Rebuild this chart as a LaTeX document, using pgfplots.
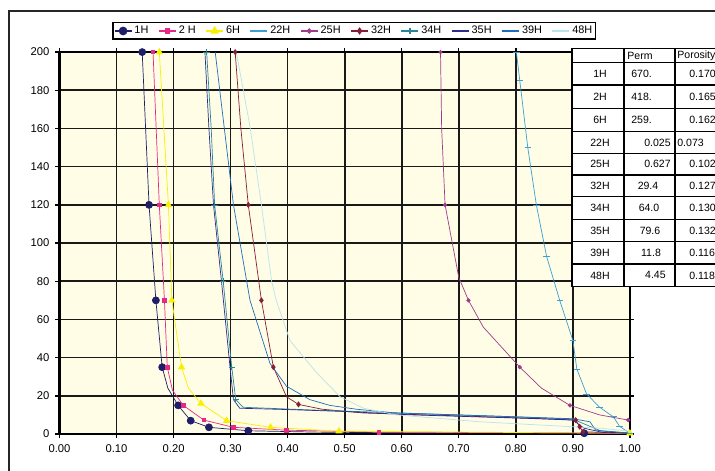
\documentclass[border=0pt]{standalone}
\usepackage{fontspec}
\setmainfont{Liberation Sans}
\usepackage{pgfplots}
\pgfplotsset{compat=1.18}

\definecolor{cream}{RGB}{255,253,230}
\definecolor{cA}{RGB}{30,30,105}   % 1H
\definecolor{cB}{RGB}{232,40,135}  % 2H
\definecolor{cC}{RGB}{248,240,0}   % 6H
\definecolor{cD}{RGB}{60,160,210}  % 22H
\definecolor{cE}{RGB}{160,60,140}  % 25H
\definecolor{cF}{RGB}{135,30,55}   % 32H
\definecolor{cG}{RGB}{40,135,150}  % 34H
\definecolor{cH}{RGB}{45,45,140}   % 35H
\definecolor{cI}{RGB}{30,110,190}  % 39H
\definecolor{cJ}{RGB}{185,228,238} % 48H

\begin{document}
\begin{tikzpicture}[x=0.02cm,y=0.02cm]
\useasboundingbox (0,0) rectangle (715,470);
\clip (0,0) rectangle (715,470);
% outer chart frame
\draw[black!85, line width=0.9pt] (9,-10) -- (9,459) -- (730,459);

\begin{axis}[
    at={(1.19cm,0.72cm)}, anchor=south west,
    scale only axis, width=11.41cm, height=7.64cm,
    xmin=0, xmax=1, ymin=0, ymax=200,
    xtick={0,0.1,0.2,0.3,0.4,0.5,0.6,0.7,0.8,0.9,1},
    ytick={0,20,40,60,80,100,120,140,160,180,200},
    xticklabel style={/pgf/number format/.cd, fixed, fixed zerofill, precision=2},
    /pgf/number format/assume math mode=true,
    tick label style={font=\fontsize{6.4}{7}\selectfont},
    grid=major,
    major grid style={black!90, line width=0.95pt},
    axis line style={black, line width=1.4pt},
    axis background/.style={fill=cream},
    tick align=outside, major tick length=0.08cm,
    tick style={black, line width=0.8pt},
    every plot/.append style={line width=0.85pt, mark size=1.2pt},
    legend columns=10,
    legend style={at={(0.092,1.079)}, anchor=north west, draw=black,
        line width=0.9pt, fill=white, inner sep=0.6pt,
        font=\fontsize{6.2}{6.5}\selectfont,
        nodes={inner sep=1.2pt},
        /tikz/every even column/.append style={column sep=4.3pt}},
    legend image code/.code={\draw[mark indices={2}]
        plot coordinates {(0cm,0cm) (0.17cm,0cm) (0.34cm,0cm)};},
]
\addplot[color=cA, mark=*, mark options={fill=cA},
    mark indices={1,2,3,4,6,7,8,9,12}] coordinates {
  (0.145,200) (0.157,120) (0.169,70) (0.180,35) (0.190,24) (0.208,15)
  (0.230,7) (0.262,3.5) (0.331,1.7) (0.45,1.0) (0.60,0.6) (0.92,0.4) (1.0,0.2)};
\addlegendentry{1H}
\addplot[color=cB, mark=square*, mark size=1pt, mark options={fill=cB},
    mark indices={1,2,3,4,6,7,8,9,10}] coordinates {
  (0.164,200) (0.175,120) (0.184,70) (0.189,35) (0.198,23) (0.217,15)
  (0.253,7.3) (0.305,3.5) (0.398,2.0) (0.56,1.0) (0.90,0.6) (1.0,0.3)};
\addlegendentry{2 H}
\addplot[color=cC, mark=triangle*, mark options={fill=cC},
    mark indices={1,2,3,4,6,7,8,9,11}] coordinates {
  (0.175,200) (0.191,120) (0.197,70) (0.214,35) (0.226,24) (0.248,16)
  (0.293,7) (0.37,3.5) (0.49,1.5) (0.75,0.9) (1.0,0.4)};
\addlegendentry{6H}
\addplot[color=cD, mark=-, mark size=1.8pt] coordinates {
  (0.801,200) (0.807,185) (0.821,150) (0.836,120) (0.854,93) (0.877,70)
  (0.900,49) (0.907,34) (0.924,21) (0.947,14) (0.971,9) (0.982,4) (1.0,0.4)};
\addlegendentry{22H}
\addplot[color=cE, mark=*, mark size=1pt, mark options={fill=cE},
    mark indices={1,3,5,7,9,11}] coordinates {
  (0.668,200) (0.670,160) (0.676,120) (0.700,82) (0.717,70) (0.743,56)
  (0.807,35) (0.845,24) (0.895,15) (0.947,10) (0.997,7.3)};
\addlegendentry{25H}
\addplot[color=cF, mark=diamond*, mark size=1.4pt, mark options={fill=cF},
    mark indices={1,3,4,5,7,12,13,14}] coordinates {
  (0.308,200) (0.318,160) (0.331,120) (0.354,70) (0.375,35) (0.398,19.5)
  (0.419,15.5) (0.46,13) (0.533,11) (0.70,9.5) (0.85,8) (0.905,7.3)
  (0.912,3.8) (0.918,1.2) (1.0,0.3)};
\addlegendentry{32H}
\addplot[color=cG, mark=+, mark size=1.8pt,
    mark indices={1,3,4,5,6}] coordinates {
  (0.258,200) (0.266,160) (0.272,120) (0.287,80) (0.302,35) (0.309,18)
  (0.322,14) (0.45,12.5) (0.60,11) (0.80,9) (0.90,7.8) (0.93,4)
  (0.95,1.5) (1.0,0.5)};
\addlegendentry{34H}
\addplot[color=cH, mark=none] coordinates {
  (0.255,200) (0.262,160) (0.270,120) (0.284,80) (0.299,35) (0.305,18)
  (0.316,13.5) (0.40,12.8) (0.50,11.8) (0.62,10) (0.82,8.2) (0.90,7.3)
  (0.92,3) (0.95,1) (1.0,0.5)};
\addlegendentry{35H}
\addplot[color=cI, mark=none] coordinates {
  (0.273,200) (0.289,160) (0.305,120) (0.334,70) (0.369,37) (0.398,25)
  (0.439,18) (0.474,15) (0.52,13) (0.59,11) (0.75,9.5) (0.90,8)
  (0.93,6.4) (0.94,2) (1.0,0.5)};
\addlegendentry{39H}
\addplot[color=cJ, mark=none] coordinates {
  (0.310,200) (0.334,161) (0.354,120) (0.372,80) (0.380,70) (0.404,49)
  (0.451,32) (0.474,25) (0.492,19.5) (0.533,13.5) (0.591,10) (0.737,6.4)
  (0.90,3.8) (0.95,3) (1.0,1.5)};
\addlegendentry{48H}
\end{axis}

% data table (pixel coordinates, y measured up from the bottom)
\fill[white] (572,421.7) rectangle (730,183.3);
\draw[black, line width=0.8pt] (572,421.7) rectangle (730,183.3);
\foreach \c in {624,675} \draw[black, line width=0.8pt] (\c,421.7) -- (\c,183.3);
\foreach \r in {407.3,385,361.7,338.3,316.7,295,273.3,250.7,228.3,206}
  \draw[black, line width=0.8pt] (572,\r) -- (730,\r);
\begin{scope}[every node/.style={font=\fontsize{6}{6.5}\selectfont, inner sep=0pt}]
\node[anchor=west] at (627,414.5) {Perm};
\node[anchor=west] at (677,414.5) {Porosity};
\foreach \lab/\y in {1H/396.1,2H/373.3,6H/350,22H/327.5,25H/305.8,32H/284.1,34H/262,35H/239.5,39H/217.1,48H/194.6}
  \node at (600,\y) {\lab};
\node[anchor=west] at (631,396.1) {670.};
\node[anchor=west] at (631,373.3) {418.};
\node[anchor=west] at (631,350) {259.};
\node[anchor=east] at (671,327.5) {0.025};
\node[anchor=east] at (671,305.8) {0.627};
\node at (648,284.1) {29.4};
\node at (649,262) {64.0};
\node at (650,239.5) {79.6};
\node at (651,217.1) {11.8};
\node[anchor=east] at (666,194.6) {4.45};
\node[anchor=west] at (689,396.1) {0.170};
\node[anchor=west] at (689,373.3) {0.165};
\node[anchor=west] at (689,350) {0.162};
\node[anchor=west] at (677,327.5) {0.073};
\node[anchor=west] at (689,305.8) {0.102};
\node[anchor=west] at (689,284.1) {0.127};
\node[anchor=west] at (689,262) {0.130};
\node[anchor=west] at (689,239.5) {0.132};
\node[anchor=west] at (689,217.1) {0.116};
\node[anchor=west] at (689,194.6) {0.118};
\end{scope}
\end{tikzpicture}
\end{document}
